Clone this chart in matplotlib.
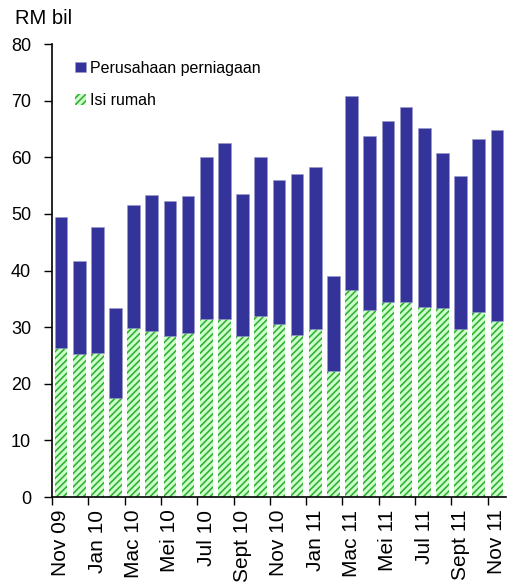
"""Stacked bars of loan approvals: business vs household, Nov 09 - Nov 11."""

import matplotlib
matplotlib.use("Agg")
import matplotlib.pyplot as plt
import numpy as np

months = [
    "Nov 09", "Dec 09", "Jan 10", "Feb 10", "Mac 10", "Apr 10", "Mei 10",
    "Jun 10", "Jul 10", "Ogos 10", "Sept 10", "Okt 10", "Nov 10", "Dis 10",
    "Jan 11", "Feb 11", "Mac 11", "Apr 11", "Mei 11", "Jun 11", "Jul 11",
    "Ogos 11", "Sept 11", "Okt 11", "Nov 11",
]

# Isi rumah (households), RM bil
household = [
    26.4, 25.3, 25.5, 17.4, 29.8, 29.3, 28.4, 28.9, 31.4, 31.4, 28.4, 31.9,
    30.5, 28.6, 29.6, 22.3, 36.6, 33.0, 34.5, 34.5, 33.6, 33.4, 29.7, 32.7,
    31.1,
]

# Totals
total = [
    49.4, 41.7, 47.6, 33.4, 51.5, 53.3, 52.2, 53.1, 60.1, 62.5, 53.5, 60.0,
    56.0, 57.1, 58.2, 39.0, 70.9, 63.7, 66.4, 68.9, 65.2, 60.8, 56.7, 63.3,
    64.8,
]

business = [t - h for t, h in zip(total, household)]

plt.rcParams["font.family"] = ["Liberation Sans", "DejaVu Sans"]
plt.rcParams["hatch.linewidth"] = 1.2

fig = plt.figure(figsize=(5.09, 5.83), dpi=100)
ax = fig.add_axes([0.102, 0.1475, 0.892, 0.777])

x = np.arange(len(months))
width = 0.7

ax.bar(x, household, width, color="#ccffcc", edgecolor="#33b033",
       linewidth=0, hatch="/////", label="Isi rumah")
ax.bar(x, business, width, bottom=household, color="#333399",
       edgecolor="#9999cc", linewidth=0.4, label="Perusahaan perniagaan")

ax.set_xlim(-0.5, len(months) - 0.5)
ax.set_ylim(0, 80)
ax.set_yticks(np.arange(0, 81, 10))
ax.tick_params(axis="y", direction="out", length=6, width=1, pad=9,
               labelsize=13)

# tick marks between every second bar, labels on every other bar
ax.set_xticks(np.arange(-0.5, len(months) - 1, 2))
ax.set_xticklabels([])
ax.tick_params(axis="x", which="major", direction="out", length=6, width=1)
ax.set_xticks(x[::2], minor=True)
ax.set_xticklabels(months[::2], minor=True, rotation=90, fontsize=15)
ax.tick_params(axis="x", which="minor", length=0, pad=9)

for side in ["top", "right"]:
    ax.spines[side].set_visible(False)
ax.spines["left"].set_linewidth(1.2)
ax.spines["bottom"].set_linewidth(1.2)

handles, labels = ax.get_legend_handles_labels()
ax.legend(handles[::-1], labels[::-1], loc="upper left",
          bbox_to_anchor=(0.02, 0.995), frameon=False, fontsize=11.5,
          handlelength=0.65, handleheight=0.65, handletextpad=0.25,
          labelspacing=1.1)

fig.text(15 / 509, 1 - 18 / 583, "RM bil", fontsize=14.5, va="center",
         ha="left")

plt.savefig("out.png", dpi=100)
plt.close()
